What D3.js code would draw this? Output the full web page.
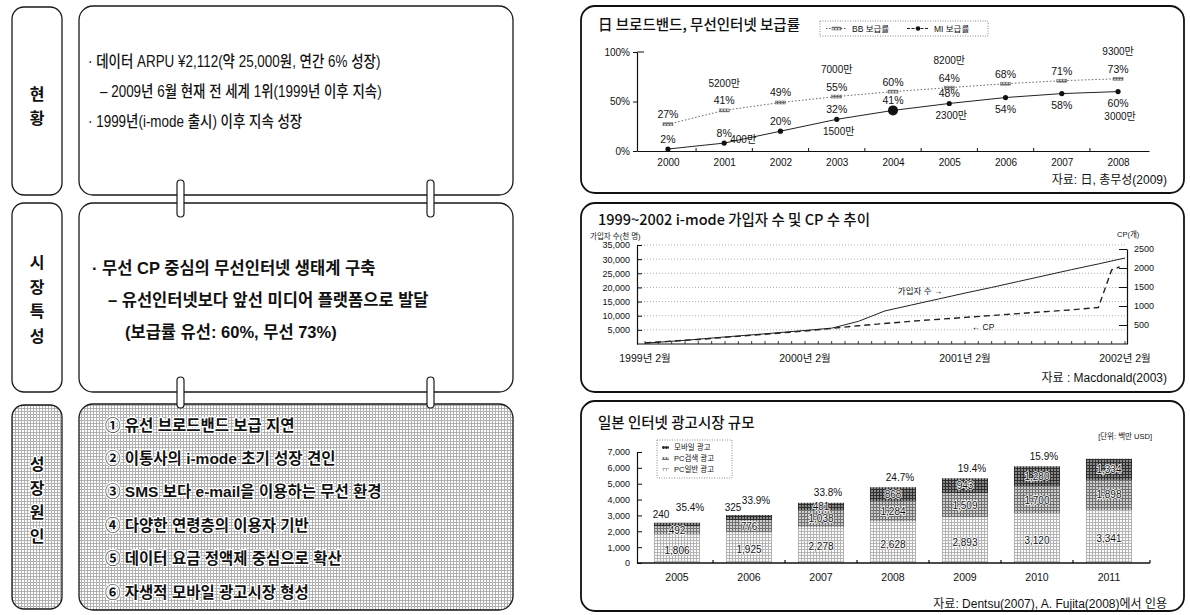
<!DOCTYPE html>
<html>
<head>
<meta charset="utf-8">
<script src="https://cdn.jsdelivr.net/npm/d3@7/dist/d3.min.js"></script>
<style>
  body { margin: 0; background: #fff; }
  svg text { font-family: 'Liberation Sans', 'Noto Sans CJK KR', sans-serif; fill: #111; }
  svg text.kr { font-family: 'Noto Sans CJK KR', sans-serif; }
  .halo { stroke: #fff; stroke-width: 2.5px; paint-order: stroke; stroke-linejoin: round; }
</style>
</head>
<body>
<svg id="chart" width="1190" height="615"></svg>
<script>
// 日 브로드밴드, 무선인터넷 보급률
var rateYears = ["2000","2001","2002","2003","2004","2005","2006","2007","2008"];
var bbRate = [27,41,49,55,60,64,68,71,73];
var miRate = [2,8,20,32,41,48,54,58,60];
var bbNote = ["","5200만","","7000만","","8200만","","","9300만"];
var miNote = ["","400만","","1500만","","2300만","","","3000만"];

// 1999~2002 i-mode 가입자 수(천 명) 및 CP 수(개), 1999년 2월 기준 월 수
var subsMonth = [0,3,6,9,12,14,16,18,20,22,24,26,28,30,32,34,36];
var subsValue = [300,1300,2500,3600,4800,5600,8000,11700,13800,15900,18000,20000,22100,24200,26300,28300,30400];
var cpMonth = [0,4,8,12,16,20,24,28,32,34,35,35.6];
var cpValue = [30,120,230,340,480,600,700,800,900,960,1950,2030];
var monthTicks = [0,12,24,36];
var monthLabels = ["1999년 2월","2000년 2월","2001년 2월","2002년 2월"];

// 일본 인터넷 광고시장 규모 (백만 USD)
var adYears = ["2005","2006","2007","2008","2009","2010","2011"];
var adPc = [1806,1925,2278,2628,2893,3120,3341];
var adSearch = [492,776,1038,1284,1509,1700,1898];
var adMobile = [240,325,481,868,943,1280,1334];
var adGrowth = ["35.4%","33.9%","33.8%","24.7%","19.4%","15.9%",""];
var adKeys = ["pc","search","mobile"];
var adNames = ["모바일 광고","PC검색 광고","PC일반 광고"];

// 왼쪽 글 상자
var statusLines = ["· 데이터 ARPU  ¥2,112(약 25,000원, 연간 6% 성장)",
                   "– 2009년 6월 현재 전 세계 1위(1999년 이후 지속)",
                   "· 1999년(i-mode 출시) 이후 지속 성장"];
var featureLines = ["· 무선 CP 중심의 무선인터넷 생태계 구축",
                    "– 유선인터넷보다 앞선 미디어 플랫폼으로 발달",
                    "(보급률 유선: 60%, 무선 73%)"];
var causeLines = ["① 유선 브로드밴드 보급 지연",
                  "② 이통사의 i-mode 초기 성장 견인",
                  "③ SMS 보다 e-mail을 이용하는 무선 환경",
                  "④ 다양한 연령층의 이용자 기반",
                  "⑤ 데이터 요금 정액제 중심으로 확산",
                  "⑥ 자생적 모바일 광고시장 형성"];

var svg = d3.select("#chart");
svg.append("rect").attr("width", 1190).attr("height", 615).attr("fill", "#fff");
var defs = svg.append("defs");

function grid(id, bg, fg, size) {
    var p = defs.append("pattern").attr("id", id)
        .attr("width", size).attr("height", size)
        .attr("patternUnits", "userSpaceOnUse");
    p.append("rect").attr("width", size).attr("height", size).attr("fill", bg);
    p.append("path").attr("d", "M0 0.5H" + size + "M0.5 0V" + size)
        .attr("stroke", fg).attr("stroke-width", 1);
}
grid("halftone", "#ffffff", "#b0b0b0", 3);
grid("pcFill", "#fbfbfb", "#b4b4b4", 3);
grid("searchFill", "#cfcfcf", "#707070", 3);
grid("mobileFill", "#8a8a8a", "#2e2e2e", 3);

// ---- 왼쪽 ----
function box(x, y, w, h, r, fill, sw) {
    svg.append("rect").attr("x", x).attr("y", y).attr("width", w).attr("height", h)
        .attr("rx", r).attr("fill", fill).attr("stroke", "#1a1a1a").attr("stroke-width", sw || 1.3);
}
box(12, 7, 50, 188, 12, "#fff");
box(79, 6, 434, 189, 14, "#fff");
box(12, 203, 50, 189, 12, "#fff");
box(79, 203, 434, 189, 14, "#fff");
box(12, 405, 50, 204, 12, "url(#halftone)");
box(79, 404, 434, 206, 14, "url(#halftone)");

function sideLabel(chars, cy, step, halo) {
    chars.forEach(function(c, i) {
        svg.append("text").attr("class", halo ? "kr halo" : "kr")
            .attr("x", 37).attr("y", cy + (i - (chars.length - 1) / 2) * step)
            .attr("text-anchor", "middle").attr("dominant-baseline", "central")
            .attr("font-size", 16).attr("font-weight", "bold").text(c);
    });
}
sideLabel(["현","황"], 105, 23.5);
sideLabel(["시","장","특","성"], 298, 24.5);
sideLabel(["성","장","원","인"], 499, 24, true);

var statusX = [88, 100, 88];
statusLines.forEach(function(t, i) {
    svg.append("text").attr("transform", "translate(" + statusX[i] + "," + (62 + i * 30) + ") scale(0.84,1)")
        .attr("dominant-baseline", "central").attr("font-size", 16).attr("font-weight", 500).text(t);
});
var featureX = [92, 108, 125];
featureLines.forEach(function(t, i) {
    svg.append("text").attr("x", featureX[i]).attr("y", 268 + i * 32)
        .attr("dominant-baseline", "central").attr("font-size", 16.5)
        .attr("font-weight", "bold").text(t);
});
causeLines.forEach(function(t, i) {
    svg.append("text").attr("class", "halo").attr("x", 105).attr("y", 425 + i * 33.4)
        .attr("dominant-baseline", "central").attr("font-size", 15.5)
        .attr("font-weight", "bold").text(t);
});

// 연결 고리
[[180, 217], [377, 408]].forEach(function(r) {
    [177, 427].forEach(function(x) {
        svg.append("rect").attr("x", x).attr("y", r[0]).attr("width", 7).attr("height", r[1] - r[0])
            .attr("rx", 3.5).attr("fill", "#fff").attr("stroke", "#1a1a1a").attr("stroke-width", 1.2);
    });
});

// ---- 오른쪽 패널 ----
function panel(y, h) {
    svg.append("rect").attr("x", 581).attr("y", y).attr("width", 603).attr("height", h)
        .attr("rx", 14).attr("fill", "#fff").attr("stroke", "#111").attr("stroke-width", 1.8);
}
panel(6, 187);
panel(203, 189);
panel(401, 210);

function title(t, y) {
    svg.append("text").attr("class", "kr").attr("x", 598).attr("y", y)
        .attr("font-size", 14.5).attr("font-weight", 500).text(t);
}
function source(t, y) {
    svg.append("text").attr("x", 1167).attr("y", y).attr("text-anchor", "end")
        .attr("dominant-baseline", "central").attr("font-size", 12).text(t);
}
function styleAxis(g, size) {
    g.attr("font-family", null).attr("font-size", size);
    g.selectAll(".domain").attr("stroke", "#111").attr("stroke-width", 1.2);
    g.selectAll(".tick line").attr("stroke", "#111");
}

// 차트 1
title("日 브로드밴드, 무선인터넷 보급률", 30);
source("자료: 日, 총무성(2009)", 180);

var xT = d3.scalePoint().domain(rateYears).range([637, 1149]).padding(0.55);
var yT = d3.scaleLinear().domain([0, 100]).range([151, 52]);

var gT = svg.append("g");
gT.append("g").attr("transform", "translate(637,0)")
    .call(d3.axisLeft(yT).tickValues([0, 50, 100]).tickFormat(function(d) { return d + "%"; })
        .tickSize(4).tickSizeOuter(0).tickPadding(3))
    .call(styleAxis, 10);
gT.append("line").attr("x1", 637).attr("x2", 644).attr("y1", yT(100)).attr("y2", yT(100)).attr("stroke", "#111");
gT.append("g").attr("transform", "translate(0," + yT(0) + ")")
    .call(d3.axisBottom(xT).tickSize(0).tickSizeOuter(0).tickPadding(8))
    .call(styleAxis, 10);
gT.selectAll(".midTick").data(rateYears.slice(1)).join("line")
    .attr("x1", function(d, i) { return (xT(d) + xT(rateYears[i])) / 2; })
    .attr("x2", function(d, i) { return (xT(d) + xT(rateYears[i])) / 2; })
    .attr("y1", yT(0)).attr("y2", yT(0) - 3).attr("stroke", "#111");

var lineT = d3.line().x(function(d, i) { return xT(rateYears[i]); }).y(function(d) { return yT(d); });
gT.append("path").attr("d", lineT(bbRate)).attr("fill", "none")
    .attr("stroke", "#666").attr("stroke-width", 1).attr("stroke-dasharray", "1.5,2");
gT.append("path").attr("d", lineT(miRate)).attr("fill", "none")
    .attr("stroke", "#222").attr("stroke-width", 1);
gT.selectAll(".bbMark").data(bbRate).join("rect")
    .attr("x", function(d, i) { return xT(rateYears[i]) - 5; })
    .attr("y", function(d) { return yT(d) - 1.5; })
    .attr("width", 10).attr("height", 3).attr("fill", "url(#searchFill)").attr("stroke", "#666").attr("stroke-width", 0.5);
gT.selectAll(".miMark").data(miRate).join("circle")
    .attr("cx", function(d, i) { return xT(rateYears[i]); })
    .attr("cy", function(d) { return yT(d); })
    .attr("r", function(d, i) { return i === 4 ? 5 : 2.6; }).attr("fill", "#111");

gT.selectAll(".bbLab").data(bbRate).join("text")
    .attr("x", function(d, i) { return xT(rateYears[i]); })
    .attr("y", function(d) { return yT(d) - 10; })
    .attr("text-anchor", "middle").attr("dominant-baseline", "central").attr("font-size", 10.5)
    .text(function(d) { return d + "%"; });
gT.selectAll(".bbNote").data(bbNote).join("text")
    .attr("x", function(d, i) { return xT(rateYears[i]); })
    .attr("y", function(d, i) { return yT(bbRate[i]) - 27; })
    .attr("text-anchor", "middle").attr("dominant-baseline", "central").attr("font-size", 10)
    .text(function(d) { return d; });
gT.selectAll(".miLab").data(miRate).join("text")
    .attr("x", function(d, i) { return xT(rateYears[i]); })
    .attr("y", function(d, i) { return yT(d) + (i <= 5 ? -10 : 11); })
    .attr("text-anchor", "middle").attr("dominant-baseline", "central").attr("font-size", 10.5)
    .text(function(d) { return d + "%"; });
gT.selectAll(".miNote").data(miNote).join("text")
    .attr("x", function(d, i) { return xT(rateYears[i]) + (i === 1 ? 19 : 2); })
    .attr("y", function(d, i) { return yT(miRate[i]) + (i === 1 ? -4 : i === 8 ? 25 : 12); })
    .attr("text-anchor", "middle").attr("dominant-baseline", "central").attr("font-size", 10)
    .text(function(d) { return d; });

// 범례
var lgT = gT.append("g");
lgT.append("rect").attr("x", 820).attr("y", 21).attr("width", 168).attr("height", 15)
    .attr("fill", "none").attr("stroke", "#888").attr("stroke-dasharray", "1,1.5");
lgT.append("line").attr("x1", 826).attr("x2", 847).attr("y1", 28.5).attr("y2", 28.5)
    .attr("stroke", "#666").attr("stroke-dasharray", "1.5,1.5");
lgT.append("rect").attr("x", 832).attr("y", 27).attr("width", 9).attr("height", 3).attr("fill", "url(#searchFill)").attr("stroke", "#666").attr("stroke-width", 0.5);
lgT.append("text").attr("x", 852).attr("y", 28.5).attr("dominant-baseline", "central").attr("font-size", 8.5).text("BB 보급률");
lgT.append("line").attr("x1", 907).attr("x2", 929).attr("y1", 28.5).attr("y2", 28.5).attr("stroke", "#222").attr("stroke-dasharray", "3,1.5");
lgT.append("circle").attr("cx", 918).attr("cy", 28.5).attr("r", 2.3).attr("fill", "#111");
lgT.append("text").attr("x", 934).attr("y", 28.5).attr("dominant-baseline", "central").attr("font-size", 8.5).text("MI 보급률");

// 차트 2
title("1999~2002 i-mode 가입자 수 및 CP 수 추이", 225);
source("자료 : Macdonald(2003)", 378);
svg.append("text").attr("x", 590).attr("y", 236).attr("dominant-baseline", "central").attr("font-size", 7.5).text("가입자 수(천 명)");
svg.append("text").attr("x", 1117).attr("y", 234).attr("dominant-baseline", "central").attr("font-size", 7.5).text("CP(개)");

var xM = d3.scaleLinear().domain([0, 36]).range([645, 1125]);
var yS = d3.scaleLinear().domain([0, 35000]).range([344, 245]);
var yC = d3.scaleLinear().domain([0, 2500]).range([344, 249]);
var gM = svg.append("g");

gM.selectAll(".gridM").data(d3.range(5000, 35001, 5000)).join("line")
    .attr("x1", 638).attr("x2", 1126).attr("y1", function(d) { return yS(d); }).attr("y2", function(d) { return yS(d); })
    .attr("stroke", "#999").attr("stroke-width", 0.8).attr("stroke-dasharray", "1,2");
gM.append("g").attr("transform", "translate(637,0)")
    .call(d3.axisLeft(yS).tickValues(d3.range(5000, 35001, 5000)).tickFormat(d3.format(","))
        .tickSize(-5).tickSizeOuter(0).tickPadding(7))
    .call(styleAxis, 9);
gM.append("g").attr("transform", "translate(1127,0)")
    .call(d3.axisRight(yC).tickValues(d3.range(500, 2501, 500)).tickFormat(d3.format("d"))
        .tickSize(-8).tickSizeOuter(0).tickPadding(7))
    .call(styleAxis, 9);
gM.append("line").attr("x1", 637).attr("x2", 1127).attr("y1", 344).attr("y2", 344).attr("stroke", "#111").attr("stroke-width", 1.2);
gM.selectAll(".mTick").data(d3.range(0, 37)).join("line")
    .attr("x1", function(d) { return xM(d); }).attr("x2", function(d) { return xM(d); })
    .attr("y1", 344).attr("y2", 341).attr("stroke", "#111").attr("stroke-width", 0.8);
gM.selectAll(".mLab").data(monthTicks).join("text")
    .attr("x", function(d) { return xM(d); }).attr("y", 358)
    .attr("text-anchor", "middle").attr("dominant-baseline", "central").attr("font-size", 10.5)
    .text(function(d, i) { return monthLabels[i]; });

var subsLine = d3.line().x(function(d, i) { return xM(subsMonth[i]); }).y(function(d) { return yS(d); });
var cpLine = d3.line().x(function(d, i) { return xM(cpMonth[i]); }).y(function(d) { return yC(d); });
gM.append("path").attr("d", subsLine(subsValue)).attr("fill", "none").attr("stroke", "#222").attr("stroke-width", 1);
gM.append("path").attr("d", cpLine(cpValue)).attr("fill", "none").attr("stroke", "#222")
    .attr("stroke-width", 1.4).attr("stroke-dasharray", "6,4");
gM.append("text").attr("x", xM(22.3)).attr("y", yS(18700)).attr("text-anchor", "end")
    .attr("dominant-baseline", "central").attr("font-size", 8.5).text("가입자 수 →");
gM.append("text").attr("x", xM(24.5)).attr("y", yC(440))
    .attr("dominant-baseline", "central").attr("font-size", 8.5).text("← CP");

// 차트 3
title("일본 인터넷 광고시장 규모", 428);
source("자료: Dentsu(2007), A. Fujita(2008)에서 인용", 604);
svg.append("text").attr("x", 1152).attr("y", 436).attr("text-anchor", "end")
    .attr("dominant-baseline", "central").attr("font-size", 7.5).text("[단위: 백만 USD]");

var adRows = adYears.map(function(y, i) { return { year: y, pc: adPc[i], search: adSearch[i], mobile: adMobile[i] }; });
var stacked = d3.stack().keys(adKeys)(adRows);
var xA = d3.scaleBand().domain(adYears).range([636, 1150]).paddingInner(0.36).paddingOuter(0.25);
var yA = d3.scaleLinear().domain([0, 7000]).range([563, 452]);
var fills = { pc: "url(#pcFill)", search: "url(#searchFill)", mobile: "url(#mobileFill)" };
var gA = svg.append("g");

gA.append("g").attr("transform", "translate(637,0)")
    .call(d3.axisLeft(yA).tickValues(d3.range(0, 7001, 1000)).tickFormat(d3.format(","))
        .tickSize(-5).tickSizeOuter(0).tickPadding(7))
    .call(styleAxis, 9);

gA.selectAll(".layer").data(stacked).join("g")
    .attr("fill", function(d) { return fills[d.key]; })
    .selectAll("rect").data(function(d) { return d; }).join("rect")
    .attr("x", function(d) { return xA(d.data.year); })
    .attr("width", xA.bandwidth())
    .attr("y", function(d) { return yA(d[1]); })
    .attr("height", function(d) { return yA(d[0]) - yA(d[1]); });

gA.append("line").attr("x1", 637).attr("x2", 1150).attr("y1", 563).attr("y2", 563).attr("stroke", "#111").attr("stroke-width", 1.4);
gA.selectAll(".aTick").data(adYears.slice(1).concat(["end"])).join("line")
    .attr("x1", function(d) { return d === "end" ? 1150 : xA(d) - xA.step() * xA.paddingInner() / 2; })
    .attr("x2", function(d) { return d === "end" ? 1150 : xA(d) - xA.step() * xA.paddingInner() / 2; })
    .attr("y1", 563).attr("y2", 560).attr("stroke", "#111").attr("stroke-width", 1.2);
gA.selectAll(".aLab").data(adYears).join("text")
    .attr("x", function(d) { return xA(d) + xA.bandwidth() / 2; }).attr("y", 577)
    .attr("text-anchor", "middle").attr("dominant-baseline", "central").attr("font-size", 10.5)
    .text(function(d) { return d; });

var fmt = d3.format(",");
stacked.forEach(function(layer) {
    gA.selectAll(".v" + layer.key).data(layer).join("text")
        .attr("class", "halo")
        .attr("x", function(d, i) {
            var cx = xA(d.data.year) + xA.bandwidth() / 2;
            return (layer.key === "mobile" && i < 2) ? cx - 16 : cx;
        })
        .attr("y", function(d, i) {
            if (layer.key === "mobile" && i < 2) return yA(d[1]) - 8;
            return (yA(d[0]) + yA(d[1])) / 2 + (layer.key === "pc" ? 2 : 0);
        })
        .attr("text-anchor", "middle").attr("dominant-baseline", "central")
        .attr("font-size", 10).style("stroke-width", "1.5px")
        .text(function(d) { return fmt(d.data[layer.key]); });
});
var topLayer = stacked[stacked.length - 1];
gA.selectAll(".growth").data(topLayer).join("text")
    .attr("x", function(d, i) { return xA(d.data.year) + xA.bandwidth() / 2 + (i === 0 ? 13 : 7); })
    .attr("y", function(d, i) { return yA(d[1]) - (i < 2 ? 15 : 10); })
    .attr("text-anchor", "middle").attr("dominant-baseline", "central").attr("font-size", 10)
    .text(function(d, i) { return adGrowth[i]; });

// 범례
var lgA = gA.append("g");
lgA.append("rect").attr("x", 657).attr("y", 440).attr("width", 75).attr("height", 38)
    .attr("fill", "#fff").attr("stroke", "#888").attr("stroke-dasharray", "1,1.5");
["mobile", "search", "pc"].forEach(function(k, i) {
    lgA.append("rect").attr("x", 662).attr("y", 446 + i * 11).attr("width", 7).attr("height", 3).attr("fill", fills[k]);
    lgA.append("text").attr("x", 674).attr("y", 447.5 + i * 11).attr("dominant-baseline", "central")
        .attr("font-size", 7.5).text(adNames[i]);
});
</script>
</body>
</html>
